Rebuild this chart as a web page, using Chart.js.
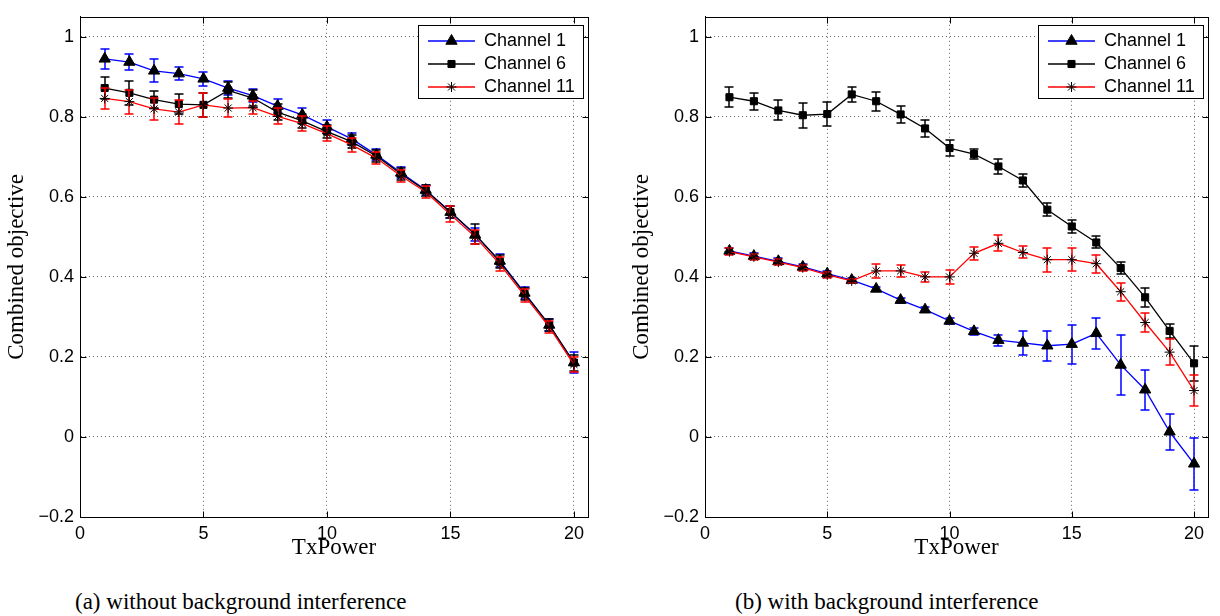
<!DOCTYPE html>
<html><head><meta charset="utf-8">
<script src="https://cdn.jsdelivr.net/npm/chart.js@4.4.1/dist/chart.umd.min.js"></script>
<style>
html,body{margin:0;padding:0;background:#fff;overflow:hidden;width:1220px;height:616px;}
canvas{position:absolute;top:0;}
#c1{left:0px}
#c2{left:625px}
.cap{position:absolute;top:590px;font-family:"Liberation Serif";font-size:23px;line-height:23px;white-space:nowrap;color:#000}
</style></head><body>
<canvas id="c1" width="600" height="566"></canvas>
<canvas id="c2" width="595" height="566"></canvas>
<div class="cap" style="left:75px">(a) without background interference</div>
<div class="cap" style="left:735px">(b) with background interference</div>
<script>
// ---------- data ----------
const txPower = [1,2,3,4,5,6,7,8,9,10,11,12,13,14,15,16,17,18,19,20];
const seriesNames = ['Channel 1','Channel 6','Channel 11'];
const xTickValues = [0,5,10,15,20];
const xTickLabels = ['0','5','10','15','20'];
const yTickValues = [-0.2,0,0.2,0.4,0.6,0.8,1];
const yTickLabels = ['\u22120.2','0','0.2','0.4','0.6','0.8','1'];
const xTitle = 'TxPower';
const yTitle = 'Combined objective';

// (a) without background interference
const noBgCh1    = [0.945,0.937,0.915,0.908,0.895,0.872,0.853,0.827,0.805,0.775,0.745,0.705,0.660,0.617,0.562,0.505,0.440,0.360,0.280,0.186];
const noBgCh1Err = [0.025,0.021,0.029,0.017,0.018,0.017,0.017,0.018,0.017,0.016,0.015,0.014,0.014,0.013,0.015,0.016,0.016,0.016,0.015,0.026];
const noBgCh6    = [0.872,0.860,0.843,0.832,0.830,0.866,0.847,0.812,0.790,0.763,0.738,0.702,0.657,0.616,0.562,0.507,0.438,0.358,0.280,0.186];
const noBgCh6Err = [0.027,0.030,0.022,0.026,0.030,0.020,0.020,0.020,0.018,0.017,0.016,0.015,0.015,0.014,0.016,0.025,0.016,0.015,0.014,0.020];
const noBgCh11    = [0.846,0.838,0.820,0.812,0.830,0.822,0.823,0.801,0.783,0.758,0.730,0.697,0.652,0.612,0.556,0.500,0.432,0.353,0.275,0.181];
const noBgCh11Err = [0.027,0.030,0.028,0.030,0.030,0.022,0.017,0.020,0.018,0.018,0.018,0.016,0.016,0.015,0.020,0.017,0.018,0.016,0.015,0.018];

// (b) with background interference
const bgCh1    = [0.465,0.452,0.439,0.425,0.408,0.392,0.370,0.342,0.318,0.290,0.264,0.242,0.235,0.228,0.232,0.259,0.180,0.118,0.013,-0.067];
const bgCh1Err = [0.008,0.007,0.007,0.007,0.007,0.006,0.006,0.006,0.006,0.007,0.009,0.014,0.029,0.038,0.049,0.039,0.074,0.050,0.045,0.065];
const bgCh6    = [0.849,0.839,0.816,0.804,0.807,0.856,0.839,0.806,0.771,0.722,0.707,0.676,0.641,0.568,0.526,0.486,0.422,0.349,0.265,0.184];
const bgCh6Err = [0.025,0.021,0.025,0.031,0.031,0.019,0.024,0.021,0.022,0.020,0.012,0.018,0.016,0.017,0.016,0.015,0.014,0.024,0.018,0.044];
const bgCh11    = [0.463,0.450,0.437,0.423,0.405,0.390,0.415,0.415,0.400,0.400,0.459,0.484,0.461,0.443,0.443,0.433,0.363,0.286,0.212,0.116];
const bgCh11Err = [0.008,0.007,0.007,0.007,0.007,0.006,0.018,0.015,0.012,0.017,0.016,0.020,0.015,0.030,0.028,0.022,0.023,0.024,0.033,0.038];

// ---------- styling ----------
Chart.defaults.font.family = 'Liberation Sans';
Chart.defaults.color = '#000';
const seriesStyles = [
  {color:'#0000ff', point:'triangle', r:6.5, order:3},
  {color:'#000000', point:'rect',     r:5,   order:2},
  {color:'#ff0000', point:'star',     r:5,   order:1}
];

function glyph(st){
  const c = document.createElement('canvas');
  c.width = 47; c.height = 14;
  const g = c.getContext('2d');
  g.strokeStyle = st.color; g.lineWidth = 1.6;
  g.beginPath(); g.moveTo(0,7); g.lineTo(47,7); g.stroke();
  g.beginPath();
  g.fillStyle = '#000'; g.strokeStyle = '#000'; g.lineWidth = 1;
  Chart.helpers.drawPoint(g, {pointStyle: st.point, radius: st.r, borderWidth: 1, rotation: 0}, 23.5, 7);
  return c;
}

const errorBars = {
  id: 'errorBars',
  beforeDatasetDraw(chart, args){
    const ds = chart.data.datasets[args.index];
    if (!ds.errors) return;
    const ctx = chart.ctx, xs = chart.scales.x, ys = chart.scales.y;
    ctx.save();
    ctx.strokeStyle = ds.barColor; ctx.lineWidth = 1.5; ctx.setLineDash([]);
    ds.data.forEach((p,i)=>{
      const e = ds.errors[i];
      const x = Math.round(xs.getPixelForValue(p.x));
      const y1 = Math.round(ys.getPixelForValue(p.y + e)), y2 = Math.round(ys.getPixelForValue(p.y - e));
      ctx.beginPath();
      ctx.moveTo(x, y1); ctx.lineTo(x, y2);
      ctx.moveTo(x-4.5, y1); ctx.lineTo(x+4.5, y1);
      ctx.moveTo(x-4.5, y2); ctx.lineTo(x+4.5, y2);
      ctx.stroke();
    });
    ctx.restore();
  }
};

const frameAndLegend = {
  id: 'frameAndLegend',
  afterLayout(chart){
    const lg = chart.legend, ca = chart.chartArea;
    const W = 165, H = 73;
    const L = Math.round(ca.right) - 5 - W, T = Math.round(ca.top) + 8;
    chart.$lbox = {L, T, W, H};
    lg.left = L + 5; lg.top = T + 2; lg.right = L + W; lg.bottom = T + 130;
    lg.width = lg.right - lg.left; lg.height = lg.bottom - lg.top;
  },
  afterDraw(chart){
    const ctx = chart.ctx, ca = chart.chartArea, xs = chart.scales.x, ys = chart.scales.y;
    const l = Math.round(ca.left)+0.5, r = Math.round(ca.right)+0.5, t = Math.round(ca.top)+0.5, b = Math.round(ca.bottom)+0.5;
    ctx.save();
    ctx.setLineDash([]); ctx.strokeStyle = '#000'; ctx.lineWidth = 1;
    ctx.beginPath();
    xTickValues.forEach(v=>{
      const x = Math.round(xs.getPixelForValue(v))+0.5;
      ctx.moveTo(x, b); ctx.lineTo(x, b-6);
      ctx.moveTo(x, t); ctx.lineTo(x, t+6);
    });
    yTickValues.forEach(v=>{
      const y = Math.round(ys.getPixelForValue(v))+0.5;
      ctx.moveTo(l, y); ctx.lineTo(l+6, y);
      ctx.moveTo(r, y); ctx.lineTo(r-6, y);
    });
    ctx.stroke();
    ctx.strokeRect(l, t, r-l, b-t);
    const lb = chart.$lbox;
    ctx.fillStyle = '#fff';
    ctx.fillRect(lb.L+0.5, lb.T+0.5, lb.W, lb.H);
    ctx.strokeRect(lb.L+0.5, lb.T+0.5, lb.W, lb.H);
    ctx.restore();
    chart.legend.draw();
  }
};

function pts(vals){ return txPower.map((x,i)=>({x:x, y:vals[i]})); }

function makeChart(id, vals, errs){
  const datasets = vals.map((v,k)=>({
    label: seriesNames[k],
    data: pts(v),
    errors: errs[k],
    barColor: seriesStyles[k].color,
    borderColor: seriesStyles[k].color,
    backgroundColor: '#000',
    borderWidth: 1.3,
    tension: 0,
    pointStyle: seriesStyles[k].point,
    pointRadius: seriesStyles[k].r,
    pointHoverRadius: seriesStyles[k].r,
    pointBackgroundColor: '#000',
    pointBorderColor: '#000',
    pointBorderWidth: 1,
    order: seriesStyles[k].order,
    clip: false
  }));
  return new Chart(document.getElementById(id), {
    type: 'line',
    data: { datasets },
    options: {
      responsive: false, animation: false, devicePixelRatio: 1,
      layout: { padding: { left: 0, right: 12, top: 7, bottom: 0 } },
      plugins: {
        tooltip: { enabled: false },
        legend: {
          position: 'chartArea', align: 'start',
          labels: {
            usePointStyle: true, pointStyleWidth: 47, padding: 5, color: '#000',
            font: { family: 'Liberation Sans', size: 18 },
            generateLabels: (ch) => ch.data.datasets.map((d,i)=>({
              text: d.label, pointStyle: glyph(seriesStyles[i]), fontColor: '#000',
              fillStyle: '#000', strokeStyle: '#000', lineWidth: 0, hidden: false, datasetIndex: i
            }))
          }
        }
      },
      scales: {
        x: {
          type: 'linear', min: 0, max: 20.57,
          afterBuildTicks: s => { s.ticks = xTickValues.map(v=>({value:v})); },
          afterFit: s => { s.height = 49; },
          ticks: { padding: 6, maxRotation: 0, autoSkip: false, font: { size: 18 }, color: '#000',
                   callback: (v,i) => xTickLabels[i] },
          grid: { color: 'rgba(0,0,0,0.6)', lineWidth: 1, drawTicks: false },
          border: { display: true, color: '#000', dash: [1,3] },
          title: { display: true, text: xTitle, color: '#000', font: { family: 'Liberation Serif', size: 23 }, padding: { top: 0, bottom: 4 } }
        },
        y: {
          type: 'linear', min: -0.2, max: 1.05,
          afterBuildTicks: s => { s.ticks = yTickValues.map(v=>({value:v})); },
          afterFit: s => { s.width = 80; },
          ticks: { padding: 6, font: { size: 18 }, color: '#000', callback: (v,i) => yTickLabels[i] },
          grid: { color: 'rgba(0,0,0,0.6)', lineWidth: 1, drawTicks: false },
          border: { display: true, color: '#000', dash: [1,3] },
          title: { display: true, text: yTitle, color: '#000', font: { family: 'Liberation Serif', size: 23 }, padding: { top: 3, bottom: 0 } }
        }
      }
    },
    plugins: [errorBars, frameAndLegend]
  });
}

makeChart('c1', [noBgCh1, noBgCh6, noBgCh11], [noBgCh1Err, noBgCh6Err, noBgCh11Err]);
makeChart('c2', [bgCh1, bgCh6, bgCh11], [bgCh1Err, bgCh6Err, bgCh11Err]);
</script>
</body></html>
